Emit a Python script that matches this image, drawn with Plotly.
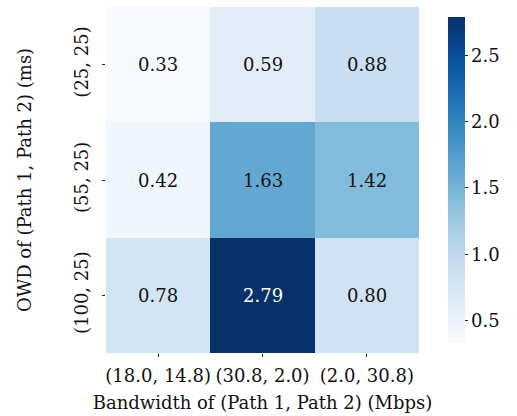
import plotly.graph_objects as go

# Bandwidth configurations (columns) and one-way delay configurations (rows)
bandwidth_labels = ["(18.0, 14.8)", "(30.8, 2.0)", "(2.0, 30.8)"]
owd_labels = ["(25, 25)", "(55, 25)", "(100, 25)"]

# Measured values, one row per OWD configuration
row_25_25 = [0.33, 0.59, 0.88]
row_55_25 = [0.42, 1.63, 1.42]
row_100_25 = [0.78, 2.79, 0.80]
values = [row_25_25, row_55_25, row_100_25]

colorbar_ticks = [0.5, 1.0, 1.5, 2.0, 2.5]

FONT = "DejaVu Serif"
SIZE = 18

zmin = min(min(r) for r in values)
zmax = max(max(r) for r in values)

fig = go.Figure(
    go.Heatmap(
        z=values,
        x=bandwidth_labels,
        y=owd_labels,
        colorscale="Blues",
        zmin=zmin,
        zmax=zmax,
        colorbar=dict(
            x=1.061,
            xanchor="left",
            y=0.5,
            yanchor="middle",
            len=1.0,
            lenmode="fraction",
            thickness=17,
            outlinewidth=0,
            tickvals=colorbar_ticks,
            ticktext=[f"{t:.1f}" for t in colorbar_ticks],
            ticks="outside",
            ticklen=3,
            tickcolor="#222",
            tickfont=dict(family=FONT, size=SIZE, color="#111"),
        ),
    )
)

# Cell value labels: white on dark cells, black elsewhere
mid = (zmin + zmax) / 2
for r, row_label in enumerate(owd_labels):
    for c, col_label in enumerate(bandwidth_labels):
        v = values[r][c]
        fig.add_annotation(
            x=col_label,
            y=row_label,
            text=f"{v:.2f}",
            showarrow=False,
            font=dict(family=FONT, size=SIZE,
                      color="white" if v > mid + 0.6 else "#111"),
        )

fig.update_layout(
    width=517,
    height=416,
    margin=dict(l=106, r=85, t=7, b=63),
    paper_bgcolor="white",
    plot_bgcolor="white",
    font=dict(family=FONT, size=SIZE, color="#111"),
    xaxis=dict(
        title=dict(text="Bandwidth of (Path 1, Path 2) (Mbps)", standoff=11,
                   font=dict(family=FONT, size=SIZE)),
        ticks="outside",
        ticklen=3,
        tickcolor="#222",
        ticklabelstandoff=3,
        tickfont=dict(family=FONT, size=SIZE),
        showgrid=False,
        zeroline=False,
    ),
    yaxis=dict(
        title=dict(text="OWD of (Path 1, Path 2) (ms)", standoff=34,
                   font=dict(family=FONT, size=SIZE)),
        autorange="reversed",
        ticks="outside",
        ticklen=3,
        tickcolor="#222",
        tickangle=-90,
        ticklabelstandoff=7,
        tickfont=dict(family=FONT, size=SIZE),
        showgrid=False,
        zeroline=False,
    ),
)

fig.write_html("out.html")
